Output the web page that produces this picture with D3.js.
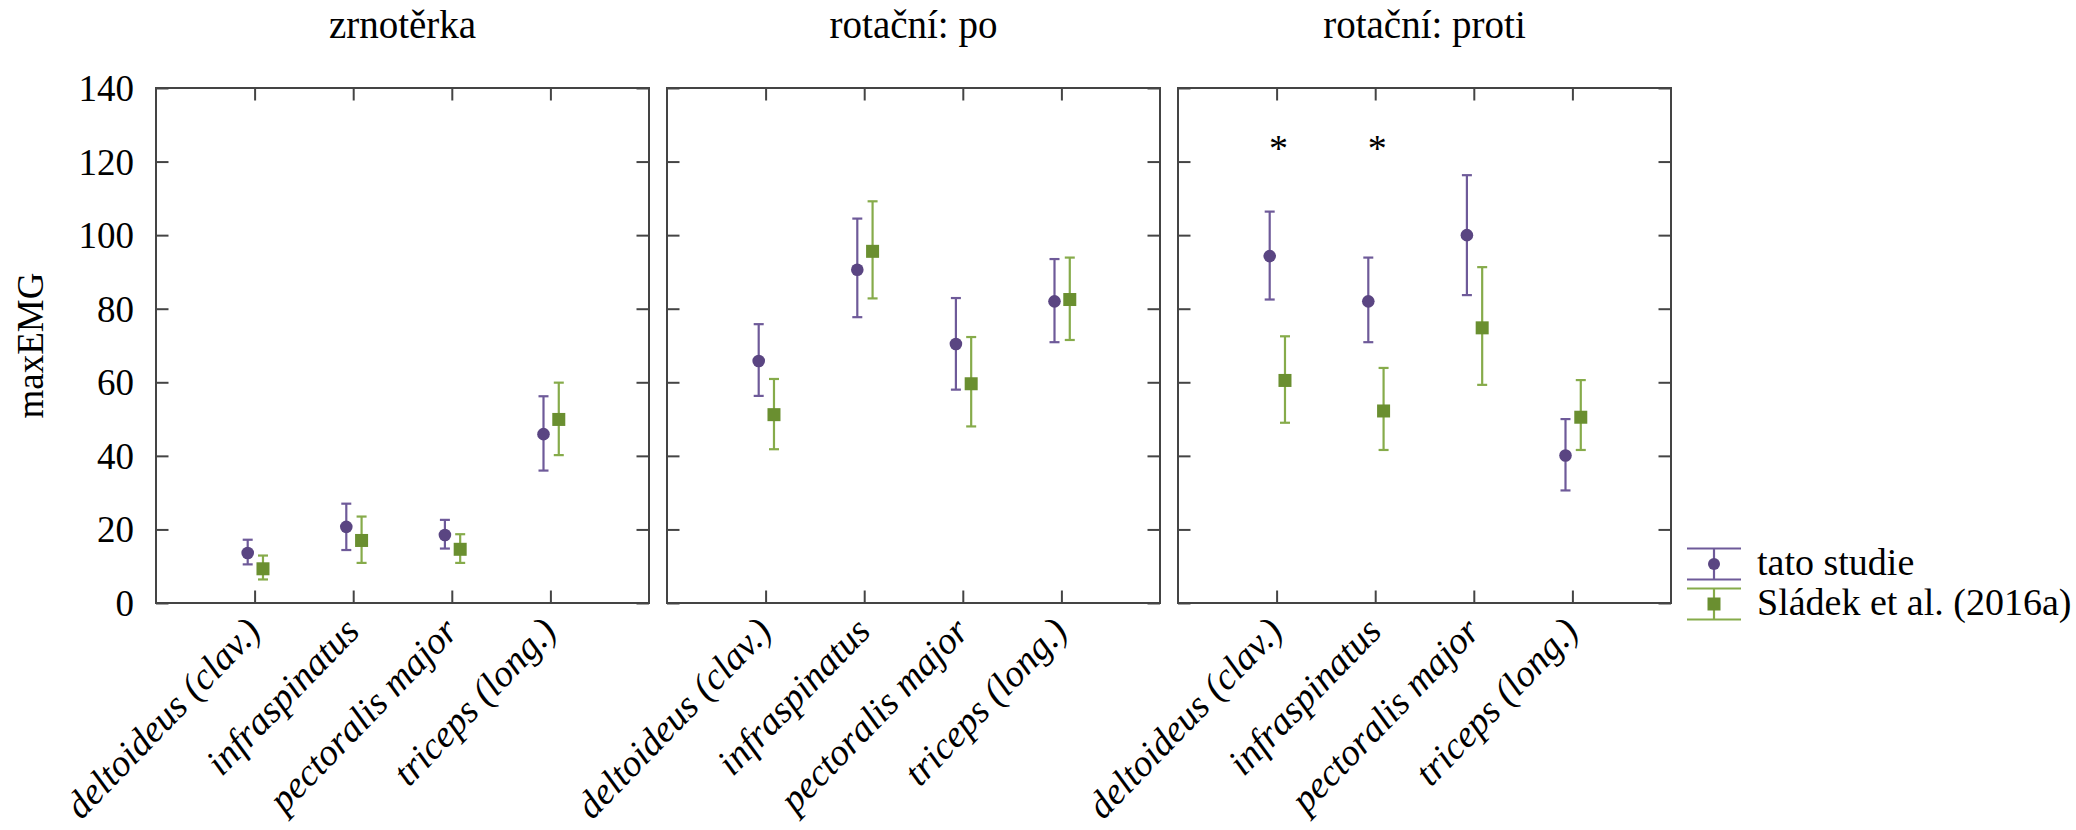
<!DOCTYPE html>
<html>
<head>
<meta charset="utf-8">
<script src="https://cdn.jsdelivr.net/npm/d3@7"></script>
<style>
  body { margin: 0; background: #fff; }
  svg text { font-family: "Liberation Serif", "Times New Roman", serif; fill: #000; }
</style>
</head>
<body>
<script>
// data
const muscles = ["deltoideus (clav.)", "infraspinatus", "pectoralis major", "triceps (long.)"];
const conditions = ["zrnotěrka", "rotační: po", "rotační: proti"];
const seriesNames = ["tato studie", "Sládek et al. (2016a)"];

// tato studie (mean, lower, upper) per condition
const studyMean = [[13.6, 20.7, 18.5, 45.9], [65.8, 90.6, 70.4, 82.0], [94.3, 82.0, 100.0, 40.1]];
const studyLow  = [[10.5, 14.4, 14.8, 36.0], [56.3, 77.7, 58.0, 70.9], [82.5, 70.9, 83.7, 30.6]];
const studyHigh = [[17.2, 27.0, 22.6, 56.2], [75.8, 104.5, 82.9, 93.5], [106.4, 93.9, 116.3, 50.0]];

// Sládek et al. (2016a)
const sladekMean = [[9.3, 17.0, 14.6, 49.9], [51.2, 95.6, 59.6, 82.5], [60.5, 52.2, 74.8, 50.5]];
const sladekLow  = [[6.4, 10.9, 10.9, 40.2], [41.8, 82.8, 48.0, 71.5], [49.0, 41.6, 59.3, 41.6]];
const sladekHigh = [[12.9, 23.5, 18.7, 59.9], [60.9, 109.2, 72.3, 93.9], [72.5, 63.9, 91.3, 60.6]];

const yTicks = [0, 20, 40, 60, 80, 100, 120, 140];

// significance marks
const signifCondition = "rotační: proti";
const signifMuscles = ["deltoideus (clav.)", "infraspinatus"];
const signifLevel = 125;

// SVG size
const width = 2076;
const height = 830;

const panelLeft = 156;
const panelW = 493;
const panelGap = 18;
const plotTop = 88;
const plotBottom = 603;

const colors = {
    study: { point: "#5a4582", bar: "#6e5a99" },
    sladek: { point: "#6a8f30", bar: "#86ab4a" }
};
const dodge = [-0.07, 0.085];

const svg = d3.select("body")
    .append("svg")
    .attr("width", width)
    .attr("height", height);

const y = d3.scaleLinear()
    .domain([0, 140])
    .range([plotBottom, plotTop]);

// build rows for each series
function rows(mean, low, high, ci) {
    const out = [];
    mean.forEach((vals, c) => {
        vals.forEach((v, m) => {
            out.push({ cond: c, muscle: m, mean: v, low: low[c][m], high: high[c][m], dodge: dodge[ci] });
        });
    });
    return out;
}
const studyRows = rows(studyMean, studyLow, studyHigh, 0);
const sladekRows = rows(sladekMean, sladekLow, sladekHigh, 1);

conditions.forEach((cond, ci) => {
    const x0 = panelLeft + ci * (panelW + panelGap);
    const x = d3.scaleLinear()
        .domain([0, muscles.length + 1])
        .range([x0, x0 + panelW]);

    const g = svg.append("g");

    // panel title
    g.append("text")
        .attr("x", x0 + panelW / 2)
        .attr("y", 38)
        .attr("text-anchor", "middle")
        .style("font-size", "39px")
        .text(cond);

    // ticks inside frame: left/right and top/bottom
    const tickLen = 12.5;
    g.append("g")
        .attr("transform", `translate(${x0},0)`)
        .call(d3.axisRight(y).tickValues(yTicks).tickSize(tickLen).tickFormat(""))
        .call(a => a.select(".domain").remove());
    g.append("g")
        .attr("transform", `translate(${x0 + panelW},0)`)
        .call(d3.axisLeft(y).tickValues(yTicks).tickSize(tickLen).tickFormat(""))
        .call(a => a.select(".domain").remove());
    g.append("g")
        .attr("transform", `translate(0,${plotBottom})`)
        .call(d3.axisTop(x).tickValues(d3.range(1, muscles.length + 1)).tickSize(tickLen).tickFormat(""))
        .call(a => a.select(".domain").remove());
    g.append("g")
        .attr("transform", `translate(0,${plotTop})`)
        .call(d3.axisBottom(x).tickValues(d3.range(1, muscles.length + 1)).tickSize(tickLen).tickFormat(""))
        .call(a => a.select(".domain").remove());
    g.selectAll(".tick line").attr("stroke", "#444").attr("stroke-width", 2);

    // frame
    g.append("rect")
        .attr("x", x0)
        .attr("y", plotTop)
        .attr("width", panelW)
        .attr("height", plotBottom - plotTop)
        .attr("fill", "none")
        .attr("stroke", "#444")
        .attr("stroke-width", 2);

    // muscle labels
    g.selectAll("text.mlab")
        .data(muscles)
        .enter()
        .append("text")
        .attr("class", "mlab")
        .attr("transform", (d, i) => `translate(${x(i + 1) + 8},${plotBottom + 30}) rotate(-46)`)
        .attr("text-anchor", "end")
        .style("font-size", "38px")
        .style("font-style", "italic")
        .text(d => d);

    // error bars + points
    [[studyRows, colors.study, "circle"], [sladekRows, colors.sladek, "square"]].forEach(([data, col, shape]) => {
        const d = data.filter(r => r.cond === ci);
        const px = r => x(r.muscle + 1 + r.dodge);
        g.selectAll(null).data(d).enter().append("line")
            .attr("x1", px).attr("x2", px)
            .attr("y1", r => y(r.low)).attr("y2", r => y(r.high))
            .attr("stroke", col.bar).attr("stroke-width", 2.2);
        [r => r.low, r => r.high].forEach(f => {
            g.selectAll(null).data(d).enter().append("line")
                .attr("x1", r => px(r) - 5).attr("x2", r => px(r) + 5)
                .attr("y1", r => y(f(r))).attr("y2", r => y(f(r)))
                .attr("stroke", col.bar).attr("stroke-width", 2.2);
        });
        if (shape === "circle") {
            g.selectAll(null).data(d).enter().append("circle")
                .attr("cx", px).attr("cy", r => y(r.mean)).attr("r", 6.3)
                .attr("fill", col.point);
        } else {
            g.selectAll(null).data(d).enter().append("rect")
                .attr("x", r => px(r) - 6.5).attr("y", r => y(r.mean) - 6.5)
                .attr("width", 13).attr("height", 13)
                .attr("fill", col.point);
        }
    });

    // significance asterisks
    if (cond === signifCondition) {
        g.selectAll(null).data(signifMuscles).enter().append("text")
            .attr("x", m => x(muscles.indexOf(m) + 1) + 2)
            .attr("y", y(signifLevel) + 18)
            .attr("text-anchor", "middle")
            .style("font-size", "38px")
            .text("*");
    }

    // y axis labels only on first panel
    if (ci === 0) {
        svg.selectAll("text.ylab")
            .data(yTicks)
            .enter()
            .append("text")
            .attr("class", "ylab")
            .attr("x", 134)
            .attr("y", d => y(d))
            .attr("dy", "0.35em")
            .attr("text-anchor", "end")
            .style("font-size", "37px")
            .text(d => d);
    }
});

// y axis title
svg.append("text")
    .attr("transform", `translate(43,${(plotTop + plotBottom) / 2}) rotate(-90)`)
    .attr("text-anchor", "middle")
    .style("font-size", "37px")
    .text("maxEMG");

// legend
const legend = svg.append("g").attr("transform", "translate(1714,0)");
const legendItems = [
    { name: seriesNames[0], col: colors.study, shape: "circle", cy: 564 },
    { name: seriesNames[1], col: colors.sladek, shape: "square", cy: 604 }
];
legendItems.forEach(it => {
    legend.append("line")
        .attr("x1", 0).attr("x2", 0)
        .attr("y1", it.cy - 15.5).attr("y2", it.cy + 15.5)
        .attr("stroke", it.col.bar).attr("stroke-width", 2.2);
    [-15.5, 15.5].forEach(o => {
        legend.append("line")
            .attr("x1", -27).attr("x2", 27)
            .attr("y1", it.cy + o).attr("y2", it.cy + o)
            .attr("stroke", it.col.bar).attr("stroke-width", 2.2);
    });
    if (it.shape === "circle") {
        legend.append("circle").attr("cx", 0).attr("cy", it.cy).attr("r", 6).attr("fill", it.col.point);
    } else {
        legend.append("rect").attr("x", -6.5).attr("y", it.cy - 6.5).attr("width", 13).attr("height", 13).attr("fill", it.col.point);
    }
    legend.append("text")
        .attr("x", 43)
        .attr("y", it.cy + 11)
        .style("font-size", "38px")
        .text(it.name);
});
</script>
</body>
</html>
